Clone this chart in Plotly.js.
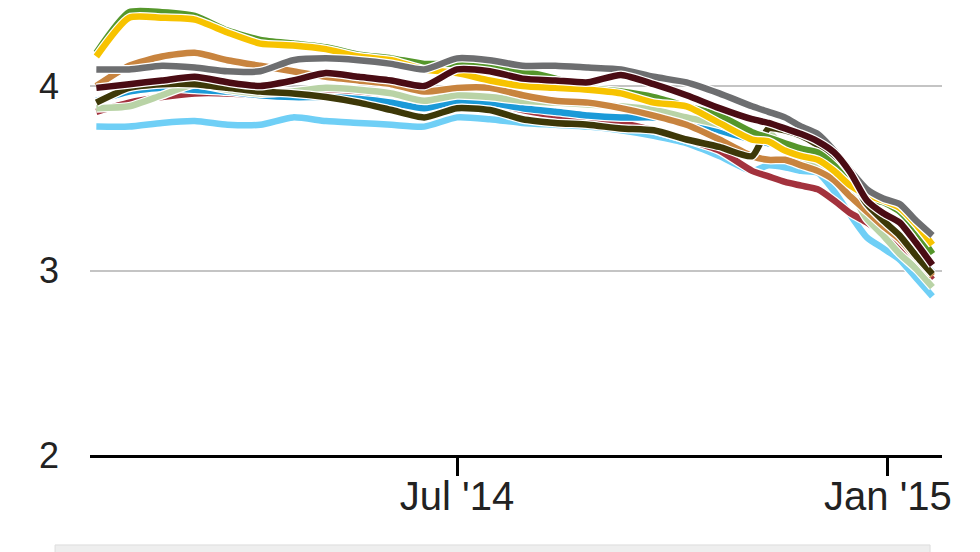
<!DOCTYPE html>
<html>
<head>
<meta charset="utf-8">
<script src="https://cdn.plot.ly/plotly-3.0.1.min.js"></script>
<style>
  html, body { margin: 0; padding: 0; background: #ffffff; }
  #chart { width: 980px; height: 552px; }
</style>
</head>
<body>
<div id="chart"></div>
<script>
// Dates of the observations
const dates = [
  '2014-01-28','2014-02-11','2014-02-25','2014-03-11','2014-03-25','2014-04-08',
  '2014-04-22','2014-05-06','2014-05-20','2014-06-03','2014-06-17','2014-07-01',
  '2014-07-15','2014-07-29','2014-08-12','2014-08-26','2014-09-09','2014-09-23',
  '2014-10-07','2014-10-21','2014-11-04','2014-11-11','2014-11-18','2014-11-25',
  '2014-12-02','2014-12-09','2014-12-16','2014-12-23','2014-12-30','2015-01-06',
  '2015-01-13','2015-01-20'
];

// Series values
const lightBlue = [3.78,3.78,3.80,3.81,3.79,3.79,3.83,3.81,3.80,3.79,3.78,3.83,3.82,3.80,3.79,3.78,3.76,3.73,3.69,3.62,3.54,3.57,3.56,3.54,3.53,3.43,3.30,3.18,3.12,3.06,2.96,2.86];
const red       = [3.86,3.91,3.94,3.96,3.96,3.95,3.95,3.95,3.94,3.91,3.88,3.92,3.91,3.87,3.84,3.83,3.80,3.76,3.71,3.65,3.54,3.51,3.48,3.46,3.44,3.38,3.31,3.26,3.20,3.13,3.05,2.95];
const blue      = [3.92,3.97,3.99,3.98,3.97,3.95,3.94,3.94,3.93,3.91,3.88,3.92,3.91,3.88,3.86,3.84,3.83,3.83,3.82,3.76,3.71,3.69,3.67,3.65,3.62,3.56,3.45,3.33,3.25,3.17,3.08,2.99];
const sage      = [3.88,3.89,3.95,4.01,3.98,3.96,3.97,3.99,3.98,3.96,3.92,3.95,3.94,3.92,3.91,3.90,3.89,3.87,3.83,3.79,3.73,3.75,3.66,3.61,3.58,3.53,3.43,3.28,3.19,3.09,3.01,2.91];
const brown     = [4.00,4.11,4.16,4.18,4.14,4.11,4.08,4.05,4.03,4.01,3.97,3.99,3.99,3.95,3.92,3.91,3.88,3.84,3.79,3.71,3.62,3.60,3.60,3.57,3.54,3.49,3.40,3.32,3.24,3.17,3.07,2.97];
const olive     = [3.91,3.99,4.01,4.01,3.99,3.97,3.96,3.94,3.91,3.87,3.83,3.88,3.87,3.82,3.80,3.79,3.77,3.76,3.71,3.67,3.62,3.77,3.76,3.73,3.68,3.62,3.50,3.36,3.27,3.19,3.08,2.98];
const green     = [4.18,4.40,4.40,4.38,4.30,4.25,4.23,4.21,4.17,4.15,4.12,4.12,4.10,4.08,4.04,3.99,3.97,3.94,3.89,3.84,3.75,3.72,3.69,3.66,3.64,3.57,3.47,3.39,3.37,3.32,3.22,3.09];
const yellow    = [4.16,4.37,4.37,4.36,4.29,4.23,4.22,4.20,4.16,4.14,4.09,4.07,4.03,4.00,3.99,3.98,3.96,3.91,3.89,3.80,3.71,3.70,3.65,3.62,3.60,3.54,3.46,3.41,3.38,3.34,3.25,3.14];
const gray      = [4.09,4.09,4.11,4.10,4.08,4.08,4.14,4.15,4.14,4.12,4.09,4.15,4.14,4.11,4.11,4.10,4.09,4.05,4.02,3.96,3.89,3.86,3.83,3.78,3.74,3.65,3.54,3.44,3.39,3.36,3.27,3.19];
const maroon    = [3.99,4.01,4.03,4.05,4.02,4.00,4.03,4.07,4.05,4.03,4.00,4.09,4.08,4.04,4.03,4.02,4.06,4.01,3.95,3.88,3.82,3.80,3.77,3.74,3.70,3.64,3.53,3.38,3.31,3.26,3.15,3.03];

// Axis ticks
const xTickVals = ['2014-07-01','2015-01-01'];
const xTickText = ["Jul '14","Jan '15"];
const yTickVals = [2,3,4];
const yTickText = ['2','3','4'];

// Drawing order, bottom to top
const seriesList = [
  {y: lightBlue, color: '#6fcff6'},
  {y: red,       color: '#a3323d'},
  {y: blue,      color: '#1b9ad8'},
  {y: sage,      color: '#b9d3a6'},
  {y: brown,     color: '#c8843f'},
  {y: olive,     color: '#3d3808'},
  {y: green,     color: '#55972b'},
  {y: yellow,    color: '#f7c300'},
  {y: gray,      color: '#6d6e70'},
  {y: maroon,    color: '#4a0c14'}
];

const traces = [];
seriesList.forEach(s => {
  traces.push({x: dates, y: s.y, type: 'scatter', mode: 'lines',
    line: {color: '#ffffff', width: 9, shape: 'spline', smoothing: 0.6}, hoverinfo: 'skip'});
  traces.push({x: dates, y: s.y, type: 'scatter', mode: 'lines',
    line: {color: s.color, width: 6.5, shape: 'spline', smoothing: 0.6}});
});

const layout = {
  width: 980, height: 552,
  margin: {l: 90, r: 38, t: 3, b: 97},
  paper_bgcolor: '#ffffff', plot_bgcolor: '#ffffff',
  showlegend: false,
  font: {family: '"Liberation Sans", Arial, sans-serif', color: '#222222'},
  xaxis: {
    type: 'date',
    range: ['2014-01-25 07:00', '2015-01-24 02:00'],
    tickvals: xTickVals, ticktext: xTickText,
    showgrid: false, zeroline: false,
    showline: true, linecolor: '#000000', linewidth: 3,
    ticks: 'outside', ticklen: 18, tickwidth: 3, tickcolor: '#000000',
    ticklabelstandoff: -14,
    tickfont: {size: 40, color: '#222222'}
  },
  yaxis: {
    range: [2, 4.45],
    tickvals: yTickVals, ticktext: yTickText,
    showgrid: true, gridcolor: '#c4c4c4', gridwidth: 2,
    zeroline: false, showline: false, ticks: '',
    ticklabelstandoff: 30,
    tickfont: {size: 36, color: '#222222'}
  },
  shapes: [{
    type: 'rect', xref: 'paper', yref: 'paper',
    x0: -0.041, x1: 0.986, y0: -0.26, y1: -0.199,
    fillcolor: '#eeeeee', line: {color: '#dddddd', width: 1}, layer: 'below'
  }]
};

Plotly.newPlot('chart', traces, layout, {staticPlot: true, displayModeBar: false});
</script>
</body>
</html>
